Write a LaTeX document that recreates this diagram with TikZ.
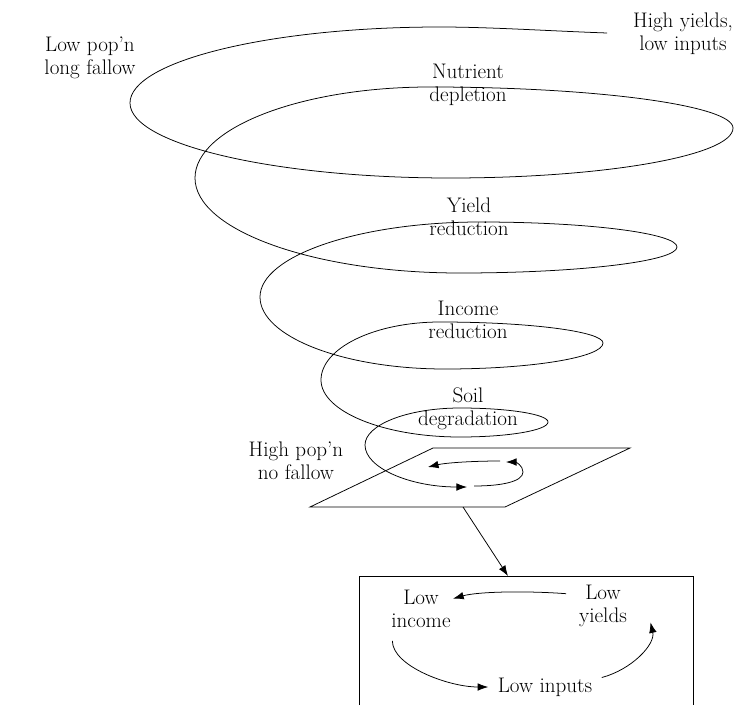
\documentclass[tikz,border=0pt]{standalone}
\usepackage{tikz}
\usetikzlibrary{arrows.meta}

\begin{document}
\begin{tikzpicture}[
			x=0.03cm, y=-0.03cm,
			spiral/.style={
				line width=0.65pt,
				black
			},
			arrowline/.style={
				line width=0.65pt,
				-{Latex[length=9pt,width=6.5pt]}
			},
			textstyle/.style={
				align=center,
				font=\fontsize{18}{19.6}\selectfont,
				inner sep=2pt
			}
			]
			
			\useasboundingbox (0,0) rectangle (741,705);
			
			% Spiral
			\draw[spiral, -{Latex[length=9pt,width=6.5pt]}] (607,33)
				.. controls (550,31) and (490,27) .. (440,27)
				.. controls (269.5,27) and (130,61.2) .. (130,103)
				.. controls (130,144.3) and (274,178) .. (450,178)
				.. controls (605.7,178) and (733,155.5) .. (733,128)
				.. controls (733,105.5) and (596.7,87) .. (430,87)
				.. controls (300.8,87) and (195,128) .. (195,178)
				.. controls (195,230.3) and (314.3,273) .. (460,273)
				.. controls (579.4,273) and (677,261.3) .. (677,247)
				.. controls (677,233.3) and (588.4,222) .. (480,222)
				.. controls (359,222) and (260,255.8) .. (260,297)
				.. controls (260,336.6) and (343.3,369) .. (445,369)
				.. controls (531.9,369) and (603,357.3) .. (603,343)
				.. controls (603,331.5) and (529.7,322) .. (440,322)
				.. controls (374.6,322) and (321,348.1) .. (321,380)
				.. controls (321,411.4) and (383.6,437) .. (460,437)
				.. controls (508.4,437) and (548,430.3) .. (548,422)
				.. controls (548,414.3) and (508.4,408) .. (460,408)
				.. controls (407.8,408) and (365,424.7) .. (365,445)
				.. controls (365,468.1) and (410.5,487) .. (467,487);
			
			% Small loop on the plane
			\draw[arrowline] (474,486) .. controls (500,486) and (523,482) .. (523,472)
				.. controls (523,465) and (515,462) .. (506,462);
			\draw[arrowline] (500,461) .. controls (470,461) and (445,463) .. (428,467);
			
			% Plane
			\draw[spiral] (310,507) -- (505,507) -- (630,448) -- (433,448) -- cycle;
			\coordinate (planeOut) at (463,507);
			
			% Box
			\coordinate (boxNW) at (359,576);
			\coordinate (boxNE) at (693,576);
			\coordinate (boxIn) at (508,576);
			\draw[spiral] (359,705) -- (boxNW) -- (boxNE) -- (693,705);
			\draw[arrowline] (planeOut) -- (boxIn);
			
			% Spiral labels
			\node[textstyle] (highYield) at (683,34) {High yields,\\low inputs};
			\node[textstyle] (lowPop) at (90,58) {Low pop'n\\long fallow};
			\node[textstyle] (nutrient) at (468,85) {Nutrient\\depletion};
			\node[textstyle] (yield) at (469,217) {Yield\\reduction};
			\node[textstyle] (income) at (468,320) {Income\\reduction};
			\node[textstyle] (soil) at (468,409) {Soil\\degradation};
			\node[textstyle] (highPop) at (296,461) {High pop'n\\no fallow};
			
			% Box labels
			\node[textstyle] (lowInc) at (421,609) {Low\\income};
			\node[textstyle] (lowYld) at (603,606) {Low\\yields};
			\node[textstyle] (lowInp) at (545,687) {Low inputs};
			
			% Box cycle
			\draw[arrowline] ([xshift=-9pt]lowYld.155) .. controls +(-40,-3) and +(25,-7) .. (lowInc.18);
			\draw[arrowline] ([xshift=3pt,yshift=-9pt]lowInc.south west) .. controls +(0,25) and +(-40,0) .. ([xshift=-6pt]lowInp.west);
			\draw[arrowline] ([xshift=6pt,yshift=-2pt]lowInp.north east) .. controls +(30,-8) and +(5,22) .. ([xshift=18pt,yshift=6pt]lowYld.south east);
			
		\end{tikzpicture}
\end{document}
